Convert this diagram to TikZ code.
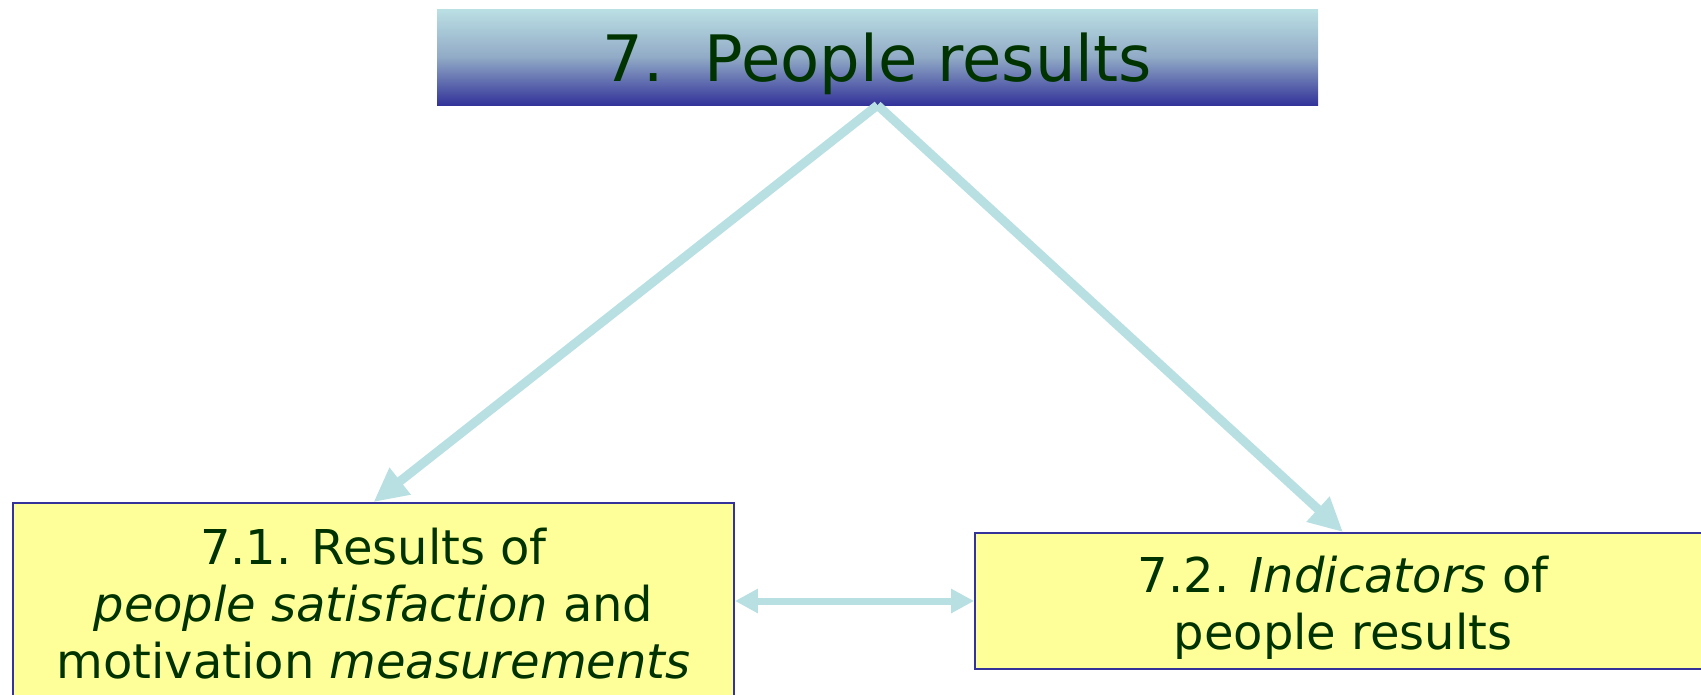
\documentclass[tikz,border=0pt]{standalone}
\usepackage{fontspec}
\setmainfont{DejaVu Sans}
\usetikzlibrary{arrows.meta}
\definecolor{txtgreen}{RGB}{0,51,0}
\definecolor{boxyellow}{RGB}{255,255,153}
\definecolor{boxblue}{RGB}{51,51,153}
\definecolor{arrowcyan}{RGB}{184,223,226}
\definecolor{topcyan}{RGB}{187,224,228}
\definecolor{midblue}{RGB}{145,170,198}
\begin{document}
\begin{tikzpicture}[x=1pt,y=-1pt,
  titlebox/.style={rectangle, top color=topcyan, bottom color=boxblue, middle color=midblue,
    minimum width=881pt, minimum height=96pt, inner sep=0pt, text=txtgreen,
    font=\fontsize{64}{70}\selectfont},
  itembox/.style={rectangle, draw=boxblue, line width=1.8pt, fill=boxyellow, inner sep=0pt,
    text=txtgreen, align=center, font=\fontsize{48}{57}\selectfont},
  bigarrow/.style={draw=arrowcyan, line width=9pt, -{Triangle[length=34pt,width=32pt]}},
  linkarrow/.style={draw=arrowcyan, line width=7pt, {Triangle[length=23pt,width=23pt]}-{Triangle[length=23pt,width=23pt]}}]
\useasboundingbox (0,0) rectangle (1701,694);
\node[titlebox] (top) at (877.5,57) {\rule{0pt}{62pt}7.~~People results};
\node[itembox, minimum width=721pt, minimum height=201pt] (r71) at (373.5,603.5)
  {7.1. Results of\\ \textit{people satisfaction} and\\ motivation \textit{measurements}};
\node[itembox, minimum width=736pt, minimum height=136pt] (r72) at (1343,601)
  {\rule{0pt}{49pt}7.2. \textit{Indicators} of\\ people results};
\draw[bigarrow] (top.south) -- (r71.north);
\draw[bigarrow] (top.south) -- (r72.north);
\draw[linkarrow] (r72.west -| r71.east) -- (r72.west);
\end{tikzpicture}
\end{document}
